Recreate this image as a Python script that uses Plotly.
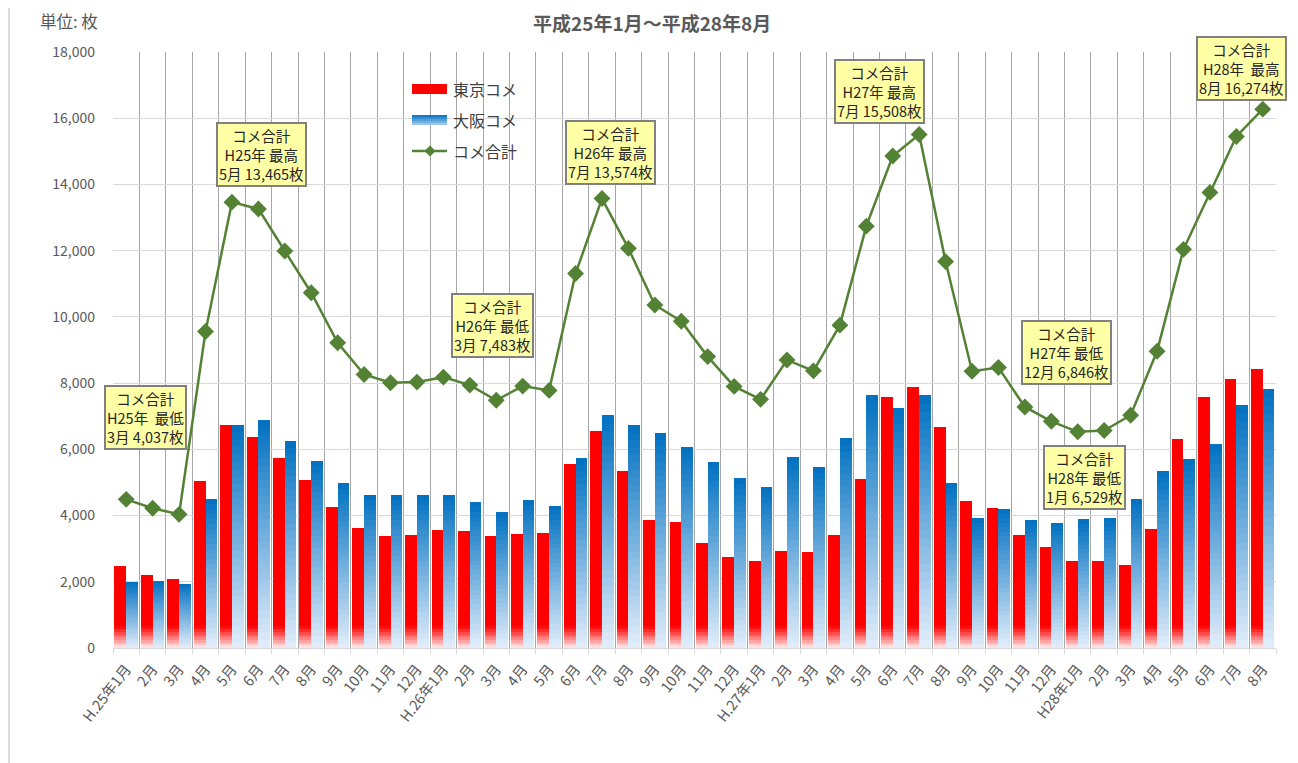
import plotly.graph_objects as go

labels = ["H.25年1月", "2月", "3月", "4月", "5月", "6月", "7月", "8月", "9月", "10月", "11月", "12月",
          "H.26年1月", "2月", "3月", "4月", "5月", "6月", "7月", "8月", "9月", "10月", "11月", "12月",
          "H.27年1月", "2月", "3月", "4月", "5月", "6月", "7月", "8月", "9月", "10月", "11月", "12月",
          "H28年1月", "2月", "3月", "4月", "5月", "6月", "7月", "8月"]

tokyo = [2490, 2190, 2090, 5040, 6730, 6370, 5740, 5070, 4250, 3630, 3380, 3420,
         3550, 3520, 3390, 3430, 3470, 5570, 6550, 5340, 3870, 3800, 3160, 2760,
         2630, 2920, 2890, 3420, 5090, 7590, 7880, 6660, 4430, 4240, 3410, 3060,
         2640, 2630, 2510, 3600, 6310, 7580, 8110, 8440]

osaka = [2000, 2030, 1947, 4500, 6735, 6880, 6250, 5650, 4970, 4630, 4630, 4630,
         4630, 4400, 4093, 4470, 4300, 5730, 7024, 6720, 6490, 6060, 5620, 5130,
         4870, 5770, 5480, 6330, 7640, 7260, 7628, 4990, 3920, 4210, 3860, 3786,
         3889, 3930, 4510, 5350, 5720, 6170, 7330, 7834]

total = [4490, 4220, 4037, 9560, 13465, 13260, 11990, 10730, 9220, 8260, 8010, 8030,
         8180, 7940, 7483, 7910, 7780, 11310, 13574, 12070, 10360, 9870, 8800, 7900,
         7510, 8700, 8370, 9750, 12740, 14860, 15508, 11670, 8360, 8470, 7280, 6846,
         6529, 6570, 7030, 8960, 12040, 13760, 15450, 16274]

callouts = [
    ("コメ合計<br>H25年\u00a0 最低<br>3月 4,037枚", 145, 418),
    ("コメ合計<br>H25年 最高<br>5月 13,465枚", 261, 155),
    ("コメ合計<br>H26年 最低<br>3月 7,483枚", 492, 326),
    ("コメ合計<br>H26年 最高<br>7月 13,574枚", 610, 152),
    ("コメ合計<br>H27年 最高<br>7月 15,508枚", 879, 91),
    ("コメ合計<br>H27年 最低<br>12月 6,846枚", 1066, 352),
    ("コメ合計<br>H28年 最低<br>1月 6,529枚", 1084, 477),
    ("コメ合計<br>H28年\u00a0 最高<br>8月 16,274枚", 1241, 69),
]

W, H = 1298, 763
OFF = 8  # page body margin
L, R, T, B = 113, 1276, 52, 648  # plot area in screen pixels
FONT = "Noto Sans CJK JP, Noto Sans, sans-serif"
x = list(range(len(labels)))


def px(xp):
    return (xp - L) / (R - L)


def py(yp):
    return (B - yp) / (B - T)


def lerp(c0, c1, t):
    return "rgb(%d,%d,%d)" % tuple(round(a + (b - a) * t) for a, b in zip(c0, c1))


fig = go.Figure()

# Tokyo (red) solid bars
fig.add_trace(go.Bar(x=x, y=tokyo, offset=-0.445, width=0.445,
                     marker=dict(color="#FF0000", line=dict(width=0)),
                     showlegend=False, hoverinfo="skip"))
# red bottom fade
M, FADE = 8, 650
for k in range(M):
    b = FADE * k / M
    fig.add_trace(go.Bar(x=x, y=[FADE - b for _ in tokyo], base=[b for _ in tokyo],
                         offset=-0.445, width=0.445,
                         marker=dict(color=lerp((255, 238, 238), (255, 0, 0), (k + 0.5) / M), line=dict(width=0)),
                         showlegend=False, hoverinfo="skip"))

# Osaka (blue) gradient bars: each bar from light bottom to dark top
N = 30
for k in range(N):
    fig.add_trace(go.Bar(x=x, y=[v - v * k / N for v in osaka], base=[v * k / N for v in osaka],
                         offset=0.0, width=0.44,
                         marker=dict(color=lerp((228, 238, 251), (0, 112, 192), (k + 0.5) / N), line=dict(width=0)),
                         showlegend=False, hoverinfo="skip"))

# Total line
fig.add_trace(go.Scatter(x=x, y=total, mode="lines+markers",
                         line=dict(color="#548235", width=2.5),
                         marker=dict(symbol="diamond", size=13, color="#548235"),
                         showlegend=False, hoverinfo="skip"))

shapes = []
annotations = []

# left frame line
shapes.append(dict(type="line", xref="paper", yref="paper", x0=px(9), x1=px(9), y0=py(H + 20), y1=py(0),
                   line=dict(color="#d0d0d0", width=1.5)))

# manual legend
shapes.append(dict(type="rect", xref="paper", yref="paper", x0=px(412), x1=px(447), y0=py(94), y1=py(84),
                   fillcolor="#FF0000", line=dict(width=0)))
steps = 5
for s in range(steps):
    y0 = 115 + 10 * s / steps
    y1 = 115 + 10 * (s + 1) / steps
    shapes.append(dict(type="rect", xref="paper", yref="paper", x0=px(412), x1=px(447), y0=py(y1), y1=py(y0),
                       fillcolor=lerp((0, 112, 192), (170, 205, 240), (s + 0.5) / steps), line=dict(width=0)))
shapes.append(dict(type="line", xref="paper", yref="paper", x0=px(412), x1=px(447), y0=py(151), y1=py(151),
                   line=dict(color="#548235", width=2.5)))
cx, cy, d = 430, 151, 5.5
shapes.append(dict(type="path", xref="paper", yref="paper",
                   path="M %f %f L %f %f L %f %f L %f %f Z" % (px(cx), py(cy - d), px(cx + d), py(cy),
                                                                px(cx), py(cy + d), px(cx - d), py(cy)),
                   fillcolor="#548235", line=dict(width=0)))
for txt, yy in [("東京コメ", 89), ("大阪コメ", 120), ("コメ合計", 151)]:
    annotations.append(dict(text=txt, xref="paper", yref="paper", x=px(451), y=py(yy),
                            xanchor="left", yanchor="middle", showarrow=False,
                            font=dict(family=FONT, size=16, color="#404040")))

# title & unit
annotations.append(dict(text="<b>平成25年1月～平成28年8月</b>", xref="paper", yref="paper",
                        x=px(652), y=py(23), xanchor="center", yanchor="middle", showarrow=False,
                        font=dict(family=FONT, size=19, color="#595959")))
annotations.append(dict(text="単位: 枚", xref="paper", yref="paper", x=px(38), y=py(21),
                        xanchor="left", yanchor="middle", showarrow=False,
                        font=dict(family=FONT, size=16.5, color="#595959")))

# callouts
for txt, cxp, cyp in callouts:
    annotations.append(dict(text=txt, xref="paper", yref="paper", x=px(cxp), y=py(cyp),
                            xanchor="center", yanchor="middle", showarrow=False, align="center",
                            bgcolor="#FFFFA5", bordercolor="#808080", borderwidth=2, borderpad=1,
                            font=dict(family=FONT, size=14.5, color="#262626")))

fig.update_layout(
    width=W, height=H,
    margin=dict(l=L - OFF, r=W - (R - OFF), t=T - OFF, b=H - (B - OFF)),
    paper_bgcolor="white", plot_bgcolor="white",
    barmode="overlay", bargap=0,
    hovermode=False,
    shapes=shapes, annotations=annotations,
    font=dict(family=FONT, color="#595959"),
)

fig.update_xaxes(
    range=[-0.5, len(labels) - 0.5],
    tickmode="array", tickvals=x, ticktext=labels, tickangle=-52,
    tickfont=dict(family=FONT, size=14.5, color="#595959"),
    showgrid=False, zeroline=False, ticks="", ticklabelstandoff=6,
    showline=True, linecolor="#d9d9d9", linewidth=1,
    minor=dict(tickmode="linear", tick0=-0.5, dtick=1, showgrid=True, gridcolor="#a6a6a6",
               gridwidth=1, ticks="outside", ticklen=5, tickcolor="#d9d9d9"),
)
fig.update_yaxes(
    range=[0, 18000], dtick=2000, tickformat=",d",
    tickfont=dict(family=FONT, size=14, color="#595959"),
    showgrid=True, gridcolor="#d9d9d9", gridwidth=1, zeroline=False,
    ticks="", ticklabelstandoff=17,
)

fig.write_html("out.html")
